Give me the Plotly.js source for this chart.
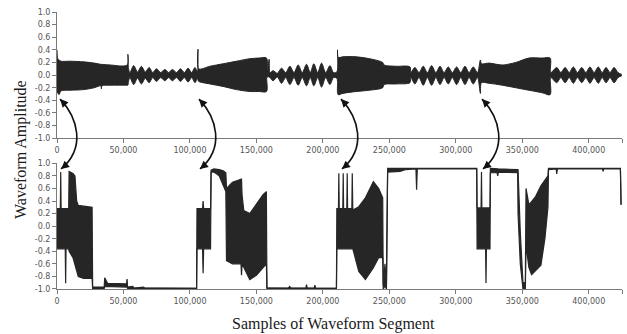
<!DOCTYPE html>
<html>
<head>
<meta charset="utf-8">
<script src="https://cdn.plot.ly/plotly-3.0.1.min.js"></script>
<style>html,body{margin:0;padding:0;background:#fff;}#chart{width:627px;height:334px;}</style>
</head>
<body>
<div id="chart"></div>
<script>
// ---------- data ----------
// Top panel: waveform envelope (upper / lower edge of the dense oscillation)
const topX = [0,600,1500,3000,10000,20000,28000,33000,33400,33800,40000,52800,53300,53800,
  54800,57700,60600,63500,66400,69300,72000,74800,78000,81100,84000,86800,89900,92900,95800,98600,101300,103800,105600,
  106100,106600,115000,125000,135000,145000,152000,157600,158000,159600,160200,
  162500,165700,168900,172000,175200,178300,181400,184500,187700,190500,193200,196100,199000,202100,205300,208000,210500,
  211000,211500,215000,225000,235000,245000,246000,255000,265500,
  266200,269200,272300,275500,278600,281800,285000,288100,291200,294300,297400,300600,303700,306900,310000,313100,316300,
  318500,319300,325000,335000,345000,355000,365000,370900,
  371400,375900,379000,382200,385300,388400,391500,394700,397800,400900,404000,407200,410100,413000,416000,419000,422000,424800];
const topUpper = [0.40,0.26,0.24,0.22,0.22,0.21,0.19,0.17,0.17,0.17,0.16,0.16,0.33,0.10,
  0.04,0.15,0.05,0.14,0.05,0.12,0.04,0.10,0.04,0.09,0.04,0.09,0.04,0.10,0.04,0.11,0.04,0.12,0.05,
  0.41,0.10,0.14,0.18,0.22,0.26,0.27,0.27,0.03,0.25,0.04,
  0.07,0.03,0.11,0.04,0.14,0.04,0.16,0.04,0.17,0.04,0.18,0.04,0.19,0.04,0.15,0.04,0.05,
  0.40,0.28,0.29,0.29,0.26,0.20,0.16,0.14,0.13,
  0.04,0.12,0.04,0.14,0.04,0.15,0.04,0.14,0.04,0.13,0.04,0.13,0.04,0.14,0.04,0.13,0.04,
  0.24,0.18,0.19,0.16,0.20,0.27,0.27,0.27,
  0.04,0.12,0.04,0.12,0.04,0.13,0.04,0.12,0.04,0.13,0.04,0.13,0.04,0.12,0.04,0.12,0.04,0.01];
const topLower = [-0.28,-0.28,-0.31,-0.25,-0.24,-0.23,-0.20,-0.17,-0.22,-0.17,-0.16,-0.16,-0.16,-0.10,
  -0.04,-0.15,-0.05,-0.14,-0.05,-0.12,-0.04,-0.10,-0.04,-0.09,-0.04,-0.09,-0.04,-0.10,-0.04,-0.11,-0.04,-0.12,-0.05,
  -0.08,-0.10,-0.14,-0.18,-0.23,-0.26,-0.26,-0.26,-0.03,-0.03,-0.04,
  -0.09,-0.03,-0.13,-0.04,-0.15,-0.04,-0.16,-0.04,-0.17,-0.04,-0.17,-0.04,-0.19,-0.04,-0.15,-0.04,-0.05,
  -0.10,-0.31,-0.29,-0.26,-0.24,-0.20,-0.15,-0.14,-0.12,
  -0.04,-0.14,-0.04,-0.16,-0.04,-0.16,-0.04,-0.15,-0.04,-0.14,-0.04,-0.15,-0.04,-0.15,-0.04,-0.14,-0.04,
  -0.29,-0.12,-0.13,-0.16,-0.20,-0.24,-0.28,-0.31,
  -0.04,-0.12,-0.04,-0.12,-0.04,-0.13,-0.04,-0.12,-0.04,-0.13,-0.04,-0.13,-0.04,-0.12,-0.04,-0.12,-0.04,-0.01];

// Bottom panel: waveform envelope
const botX = [0,2500,2800,3100,6200,6500,6800,8800,9100,12000,13500,14800,16000,20000,26400,
  26800,35500,35900,38000,52300,52700,53100,57000,58000,65000,66000,75000,76000,105000,
  105300,109500,109900,110300,115500,115900,118000,122000,125000,127000,127500,132000,138400,138800,139200,140500,145000,150000,155000,157500,
  157900,174000,175000,176000,187200,187700,188200,193500,194000,194500,210200,
  210500,211700,212000,212300,215000,215300,215600,218000,218300,218600,221800,222100,222500,223000,227000,232000,238000,242000,245000,
  245400,246700,247800,248700,258000,262000,270000,270500,271000,315700,
  316000,319000,319300,319600,322400,322700,323000,325700,326000,331000,331500,332000,346500,
  346800,348500,350500,352300,352800,355000,357000,360000,364000,367000,369300,369700,
  375500,375900,376400,410300,410800,411300,423800,424300];
const botUpper = [0.28,0.28,0.86,0.28,0.28,0.28,0.28,0.28,0.87,0.84,0.80,0.40,0.33,0.32,0.30,
  -0.97,-0.97,-0.82,-0.91,-0.92,-0.84,-0.97,-0.96,-0.985,-0.97,-0.985,-0.975,-0.985,-0.99,
  0.28,0.28,0.40,0.28,0.28,0.89,0.91,0.90,0.88,0.85,0.60,0.70,0.75,0.75,0.50,0.25,0.20,0.35,0.50,0.55,
  -0.98,-0.985,-0.96,-0.985,-0.985,-0.93,-0.985,-0.985,-0.94,-0.985,-0.99,
  0.28,0.28,0.84,0.28,0.28,0.84,0.28,0.28,0.84,0.28,0.28,0.84,0.28,0.26,0.31,0.45,0.71,0.60,0.45,
  -0.95,-0.60,-0.95,0.92,0.92,0.92,0.92,0.92,0.92,0.92,
  0.29,0.29,0.86,0.29,0.29,0.29,0.29,0.29,0.92,0.91,0.91,0.91,0.90,
  0.90,-0.10,-0.90,-0.90,0.60,0.34,0.40,0.47,0.64,0.74,0.80,0.92,
  0.92,0.92,0.92,0.92,0.92,0.92,0.92,0.34];
const botLower = [-0.36,-0.36,-0.36,-0.36,-0.36,-0.91,-0.36,-0.36,-0.40,-0.50,-0.62,-0.72,-0.80,-0.83,-0.83,
  -0.99,-0.99,-0.96,-0.96,-0.97,-0.97,-0.99,-0.99,-0.99,-0.99,-0.99,-0.99,-0.99,-0.99,
  -0.36,-0.36,-0.75,-0.36,-0.36,0.86,0.86,0.80,0.65,0.55,-0.55,-0.60,-0.60,-0.78,-0.60,-0.66,-0.85,-0.78,-0.65,-0.60,
  -0.99,-0.99,-0.99,-0.99,-0.99,-0.99,-0.99,-0.99,-0.99,-0.99,-0.99,
  -0.36,-0.36,-0.36,-0.36,-0.36,-0.36,-0.36,-0.36,-0.36,-0.36,-0.36,-0.36,-0.36,-0.40,-0.72,-0.85,-0.66,-0.50,-0.50,
  -1.00,-0.95,-1.00,0.86,0.87,0.90,0.91,0.58,0.91,0.91,
  -0.36,-0.36,-0.36,-0.36,-0.36,-0.905,-0.36,-0.36,0.85,0.85,0.80,0.86,0.85,
  0.20,-0.60,-1.00,-1.00,-0.30,-0.66,-0.77,-0.70,-0.62,-0.20,0.30,0.90,
  0.91,0.83,0.91,0.91,0.87,0.91,0.91,0.34];

// Event onsets marked by the double-headed arrows (sample index)
const eventX = [2300, 106800, 213600, 319700];
const arrowTopAmp = -0.38;   // arrow tip amplitude in top panel
const arrowBotAmp = 0.91;    // arrow tip amplitude in bottom panel

// Tick labels
const xTickVals = [0,50000,100000,150000,200000,250000,300000,350000,400000,425000];
const xTickText = ['0','50,000','100,000','150,000','200,000','250,000','300,000','350,000','400,000',''];
const yTickVals = [-1,-0.8,-0.6,-0.4,-0.2,0,0.2,0.4,0.6,0.8,1];
const yTickText = ['-1.0','-0.8','-0.6','-0.4','-0.2','0.0','0.2','0.4','0.6','0.8','1.0'];

const yTitle = 'Waveform Amplitude';
const xTitle = 'Samples of Waveform Segment';

// ---------- layout ----------
const W = 627, H = 334, L = 57, R = 5, T = 12, B = 45;
const PW = W - L - R, PH = H - T - B;
const XMAX = 425000;
const dom1 = [0.5444, 1], dom2 = [0, 0.4538];
const ink = '#262626', axisCol = '#7a7a7a', tickFontCol = '#555';

function xToPx(x){ return L + x / XMAX * PW; }
function yToPy(v, dom){ const p = dom[0] + (v + 1) / 2 * (dom[1] - dom[0]); return T + (1 - p) * PH; }
function pxToPaperX(px){ return (px - L) / PW; }
function pyToPaperY(py){ return 1 - (py - T) / PH; }

const traces = [
  {x: topX, y: topLower, xaxis: 'x', yaxis: 'y', mode: 'lines', line: {color: ink, width: 1, shape: 'spline', smoothing: 0.9}, hoverinfo: 'skip', showlegend: false},
  {x: topX, y: topUpper, xaxis: 'x', yaxis: 'y', mode: 'lines', fill: 'tonexty', fillcolor: ink, line: {color: ink, width: 1, shape: 'spline', smoothing: 0.9}, hoverinfo: 'skip', showlegend: false},
  {x: botX, y: botLower, xaxis: 'x2', yaxis: 'y2', mode: 'lines', line: {color: ink, width: 1.2}, hoverinfo: 'skip', showlegend: false},
  {x: botX, y: botUpper, xaxis: 'x2', yaxis: 'y2', mode: 'lines', fill: 'tonexty', fillcolor: ink, line: {color: ink, width: 1.2}, hoverinfo: 'skip', showlegend: false}
];

const tickFont = {family: 'DejaVu Sans, sans-serif', size: 8, color: tickFontCol};
function xAxis(anchor){
  return {domain: [0, 1], range: [0, XMAX], anchor: anchor, showline: true, linecolor: axisCol, linewidth: 1,
    ticks: 'outside', ticklen: 4, tickcolor: axisCol, tickwidth: 1, tickmode: 'array', tickvals: xTickVals, ticktext: xTickText,
    tickfont: tickFont, showgrid: false, zeroline: false, fixedrange: true};
}
function yAxis(anchor, dom){
  return {domain: dom, range: [-1, 1], anchor: anchor, showline: true, linecolor: axisCol, linewidth: 1,
    ticks: 'outside', ticklen: 4, tickcolor: axisCol, tickwidth: 1, tickmode: 'array', tickvals: yTickVals, ticktext: yTickText,
    tickfont: tickFont, showgrid: false, zeroline: false, fixedrange: true};
}

const shapes = [], annotations = [];
eventX.forEach(function(e){
  const x0 = xToPx(e), y0 = yToPy(arrowTopAmp, dom1);
  const x3 = x0 + 1, y3 = yToPy(arrowBotAmp, dom2);
  const dy = y3 - y0;
  const c1x = x0 + 18, c1y = y0 + 0.27 * dy;
  const c2x = x0 + 26, c2y = y0 + 0.70 * dy;
  const P = function(px, py){ return pxToPaperX(px).toFixed(5) + ',' + pyToPaperY(py).toFixed(5); };
  shapes.push({type: 'path', xref: 'paper', yref: 'paper',
    path: 'M ' + P(x0, y0) + ' C ' + P(c1x, c1y) + ' ' + P(c2x, c2y) + ' ' + P(x3, y3),
    line: {color: '#111', width: 1.6}});
  annotations.push({xref: 'paper', yref: 'paper', x: pxToPaperX(x0), y: pyToPaperY(y0), text: '', showarrow: true,
    arrowhead: 2, arrowsize: 1, arrowwidth: 1.6, arrowcolor: '#111', ax: 5.5, ay: 5.8, standoff: 0});
  annotations.push({xref: 'paper', yref: 'paper', x: pxToPaperX(x3), y: pyToPaperY(y3), text: '', showarrow: true,
    arrowhead: 2, arrowsize: 1, arrowwidth: 1.6, arrowcolor: '#111', ax: 6.1, ay: -5.1, standoff: 0});
});

annotations.push({xref: 'paper', yref: 'paper', x: pxToPaperX(21), y: pyToPaperY(150), text: yTitle, textangle: -90,
  showarrow: false, xanchor: 'center', yanchor: 'middle', font: {family: 'Liberation Serif, Times New Roman, serif', size: 16, color: '#1a1a1a'}});
annotations.push({xref: 'paper', yref: 'paper', x: pxToPaperX(333), y: pyToPaperY(324), text: xTitle,
  showarrow: false, xanchor: 'center', yanchor: 'middle', font: {family: 'Liberation Serif, Times New Roman, serif', size: 16, color: '#1a1a1a'}});

const layout = {
  width: W, height: H, margin: {l: L, r: R, t: T, b: B, pad: 0},
  paper_bgcolor: '#fff', plot_bgcolor: '#fff', showlegend: false,
  xaxis: xAxis('y'), yaxis: yAxis('x', dom1),
  xaxis2: xAxis('y2'), yaxis2: yAxis('x2', dom2),
  shapes: shapes, annotations: annotations
};

Plotly.newPlot('chart', traces, layout, {displayModeBar: false, staticPlot: true});
</script>
</body>
</html>
